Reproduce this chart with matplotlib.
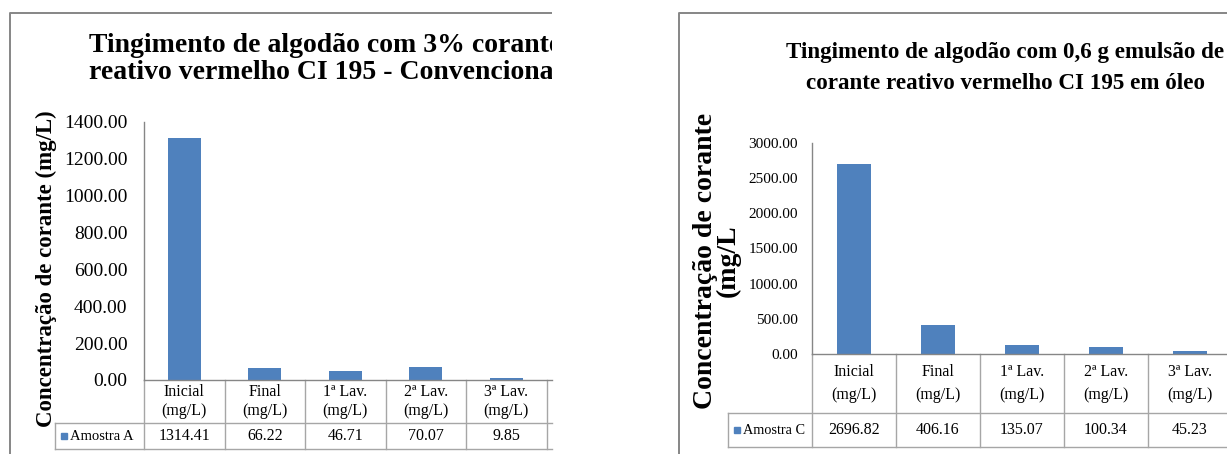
import matplotlib.pyplot as plt
from matplotlib.transforms import blended_transform_factory

categorias = ["Inicial\n(mg/L)", "Final\n(mg/L)", "1ª Lav.\n(mg/L)", "2ª Lav.\n(mg/L)", "3ª Lav.\n(mg/L)"]
amostra_a = [1314.41, 66.22, 46.71, 70.07, 9.85]
amostra_c = [2696.82, 406.16, 135.07, 100.34, 45.23]
ticks_a = [0, 200, 400, 600, 800, 1000, 1200, 1400]
ticks_c = [0, 500, 1000, 1500, 2000, 2500, 3000]

titulo_a = "Tingimento de algodão com 3% corante\nreativo vermelho CI 195 - Convencional"
titulo_c = "Tingimento de algodão com 0,6 g emulsão de\ncorante reativo vermelho CI 195 em óleo"
ylabel_a = "Concentração de corante (mg/L)"
ylabel_c = "Concentração de corante\n(mg/L"

AZUL = "#4F81BD"
CINZA_EIXO = "#868686"
CINZA_TAB = "#A6A6A6"
FONTE = "Liberation Serif"

W, H = 1227, 454
fig = plt.figure(figsize=(W / 100, H / 100), dpi=100)


def rect(x0, y0, x1, y1):
    # caixa em pixels (origem no topo) -> coordenadas da figura
    return [x0 / W, 1 - y1 / H, (x1 - x0) / W, (y1 - y0) / H]


def painel(vis, moldura, titulo, tit_xy, tit_fs, tit_ls, caixa, larg_col, leg_x,
           linhas, valores, nome, nome_fs, ticks, tick_fs, tick_pad, tab_fs, tab_ls,
           ylabel, ylab_xy, ylab_fs, ylab_ls):
    # fundo / moldura do gráfico (recortado na área visível)
    fa = fig.add_axes(rect(*vis))
    fa.set_xlim(vis[0], vis[2])
    fa.set_ylim(vis[3], vis[1])
    fa.axis("off")
    fx, fy = moldura
    fa.plot([fx, fx, vis[2] + 50], [H + 50, fy, fy], color=CINZA_EIXO, lw=1.4)
    fa.text(tit_xy[0], tit_xy[1], titulo, ha="center", va="center", fontsize=tit_fs,
            fontweight="bold", family=FONTE, linespacing=tit_ls, clip_on=True)

    ax = fig.add_axes(rect(*caixa))
    n = len(valores)
    x = list(range(n))
    ax.bar(x, valores, width=0.41, color=AZUL)
    x_max = -0.5 + (caixa[2] - caixa[0]) / larg_col
    ax.set_xlim(-0.5, x_max)
    ax.set_ylim(ticks[0], ticks[-1])
    ax.set_yticks(ticks, [f"{t:.2f}" for t in ticks], fontsize=tick_fs, family=FONTE)
    ax.tick_params(axis="y", length=0, pad=tick_pad)
    ax.set_xticks([])
    for s in ["top", "right"]:
        ax.spines[s].set_visible(False)
    for s in ["left", "bottom"]:
        ax.spines[s].set_color(CINZA_EIXO)
        ax.spines[s].set_linewidth(1.0)

    # tabela de dados abaixo do eixo
    tr = blended_transform_factory(ax.transData, ax.transAxes)
    y_base, y_top = caixa[3], caixa[1]

    def yf(py):
        return (y_base - py) / (y_base - y_top)

    y_cab, y_fim = linhas
    xl = -0.5 + (leg_x - caixa[0]) / larg_col
    kw = dict(transform=tr, clip_on=False, color=CINZA_TAB, lw=1.0)
    for i in range(-1, n):
        ax.plot([i + 0.5, i + 0.5], [0, yf(y_fim)], **kw)
    ax.plot([xl, x_max], [yf(y_cab)] * 2, **kw)
    ax.plot([xl, x_max], [yf(y_fim)] * 2, **kw)
    ax.plot([xl, xl], [yf(y_cab), yf(y_fim)], **kw)

    y_mid_cab = yf((y_base + y_cab) / 2)
    y_mid_val = yf((y_cab + y_fim) / 2)
    for i, (c, v) in enumerate(zip(categorias, valores)):
        ax.text(i, y_mid_cab, c, transform=tr, ha="center", va="center",
                fontsize=tab_fs, family=FONTE, linespacing=tab_ls)
        ax.text(i, y_mid_val, f"{v:.2f}", transform=tr, ha="center", va="center",
                fontsize=tab_fs, family=FONTE)
    xq = xl + 9 / larg_col
    ax.plot([xq], [y_mid_val], marker="s", ms=5, color=AZUL, transform=tr, clip_on=False)
    ax.text(xq + 6 / larg_col, y_mid_val, nome, transform=tr, ha="left", va="center",
            fontsize=nome_fs, family=FONTE)

    fig.text(ylab_xy[0] / W, 1 - ylab_xy[1] / H, ylabel, rotation=90, ha="center",
             va="center", multialignment="center", fontsize=ylab_fs, fontweight="bold",
             family=FONTE, linespacing=ylab_ls)


painel(vis=(0, 0, 552, H), moldura=(10, 13), titulo=titulo_a, tit_xy=(325, 59),
       tit_fs=20, tit_ls=1.1, caixa=(144, 122, 552, 380), larg_col=80.5, leg_x=55,
       linhas=(423, 449), valores=amostra_a, nome="Amostra A", nome_fs=10.5,
       ticks=ticks_a, tick_fs=14, tick_pad=12, tab_fs=11.5, tab_ls=1.3,
       ylabel=ylabel_a, ylab_xy=(46, 269), ylab_fs=16.5, ylab_ls=1.0)

painel(vis=(679 - 5, 0, W, H), moldura=(679, 13), titulo=titulo_c, tit_xy=(1005, 68),
       tit_fs=16.6, tit_ls=1.68, caixa=(812, 143, W, 354), larg_col=84, leg_x=728,
       linhas=(413, 447), valores=amostra_c, nome="Amostra C", nome_fs=10.3,
       ticks=ticks_c, tick_fs=11, tick_pad=10, tab_fs=11.5, tab_ls=1.6,
       ylabel=ylabel_c, ylab_xy=(717, 261), ylab_fs=20, ylab_ls=0.85)

fig.savefig("out.png", dpi=100)
